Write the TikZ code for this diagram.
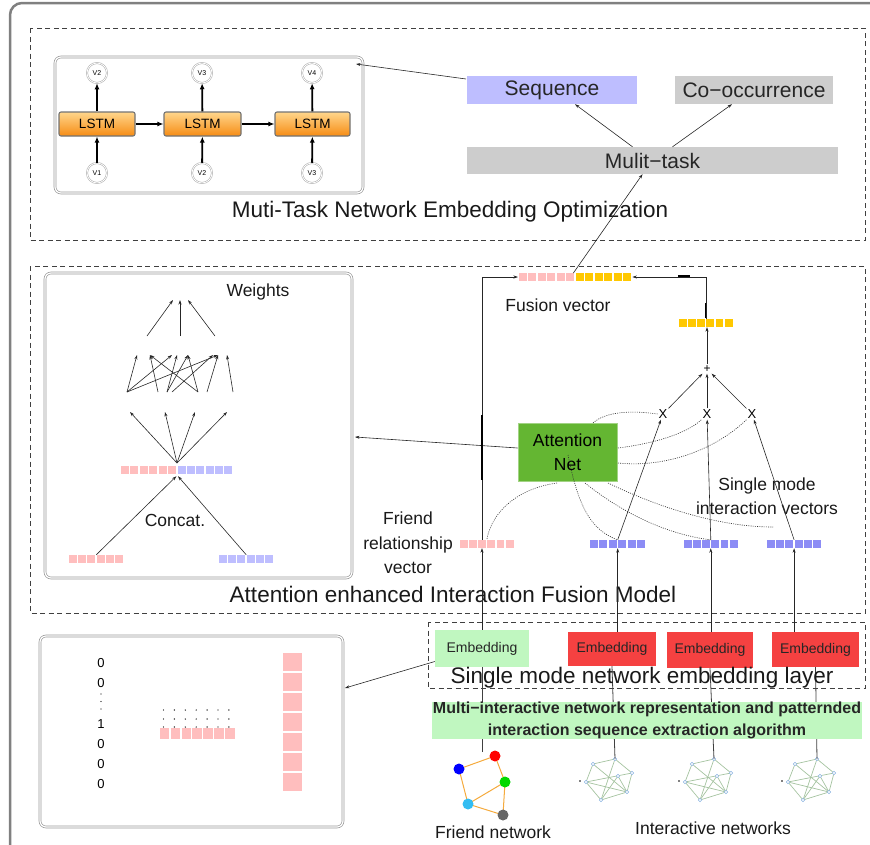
\documentclass[tikz,border=0pt]{standalone}
\usepackage{fontspec}
\setmainfont{Liberation Sans}
\usetikzlibrary{arrows.meta,calc}
\definecolor{pinkc}{RGB}{255,190,190}
\definecolor{bluec}{RGB}{190,190,255}
\definecolor{blued}{RGB}{140,140,245}
\definecolor{yellowc}{RGB}{255,200,0}
\definecolor{attg}{RGB}{100,182,50}
\definecolor{redc}{RGB}{245,65,65}
\definecolor{lgreen}{RGB}{192,247,192}
\definecolor{greyc}{RGB}{205,205,205}
\definecolor{seqc}{RGB}{190,190,255}
\definecolor{netg}{RGB}{165,195,160}
\definecolor{netn}{RGB}{140,180,225}
\definecolor{lstmt}{RGB}{255,214,140}
\definecolor{lstmb}{RGB}{246,140,20}
\definecolor{orangel}{RGB}{245,170,60}
\newcommand\cellrow[7]{%
  \foreach \i in {1,...,#4}{\fill[#5] ({#2+(\i-1)*#6+0.7},{#3-#7}) rectangle ({#2+\i*#6-0.7},{#3+#7});}%
  \node[inner sep=0pt,minimum width={#4*#6},minimum height={2*#7},anchor=west] (#1) at (#2,#3) {};}
\newcommand\inet[3]{%
  \begin{scope}[shift={(#2,#3)}]
    \foreach \p/\q/\r in {#1a/0/0,#1b/-22/5,#1c/17/14,#1d/3/17,#1e/-29/23,#1f/12/33,#1g/-14/41}
      \coordinate (\p) at (\q,\r);
    \foreach \u/\v in {a/b,a/c,b/e,e/g,g/f,a/g,b/f,e/c,e/f,d/f,d/g,c/f}
      \draw[netg,line width=0.7pt] (#1\u) -- (#1\v);
    \foreach \p in {a,b,c,d,e,f,g}
      \node[netnode] (#1n\p) at (#1\p) {};
    \fill[black] (-35,22) circle (0.8);
  \end{scope}}
\tikzset{
  dbox/.style={draw=black!75,dash pattern=on 5pt off 3.5pt,line width=0.8pt},
  ibox/.style={draw=black!40,double=white,double distance=1.2pt,line width=0.7pt,rounded corners=6pt},
  arr/.style={-{Stealth[length=4.5pt,width=3pt]},line width=0.6pt,draw=black!85},
  darr/.style={-{Latex[length=6pt,width=5pt]},line width=1.8pt},
  dots/.style={dash pattern=on 1pt off 1.2pt,line width=0.6pt,draw=black!80},
  lstm/.style={draw=black!55,line width=1.1pt,rounded corners=2pt,top color=lstmt,bottom color=lstmb,
    font=\fontsize{13.5}{16}\selectfont,inner sep=0pt},
  vcirc/.style={circle,draw=black!35,double=white,double distance=0.8pt,line width=0.5pt,minimum size=20pt,
    inner sep=0pt,font=\fontsize{7}{8}\selectfont},
  netnode/.style={circle,draw=netn,fill=white,inner sep=0pt,minimum size=3.5pt,line width=0.5pt},
  fnode/.style={circle,inner sep=0pt,minimum size=11pt},
  link/.style={draw=black!75,line width=0.8pt},
  title/.style={font=\fontsize{22.5}{27}\selectfont,text=black!90},
  lab/.style={font=\fontsize{17.5}{24.5}\selectfont,text=black!90,align=center},
  emb/.style={inner sep=0pt,font=\fontsize{14}{16}\selectfont,text=black!85},
  boxlab/.style={inner sep=0pt,font=\fontsize{21}{24}\selectfont,text=black!85}
}
\begin{document}
\begin{tikzpicture}[x=1pt,y=-1pt]
\useasboundingbox (0,0) rectangle (870,844);
\draw[black!50,line width=2.5pt,rounded corners=12pt] (10,850) -- (10,3) -- (880,3);

%% ---------- top section ----------
\draw[dbox] (30,28) rectangle (865,240);
\node[ibox,minimum width=308pt,minimum height=136pt] (lstmbox) at (209,125) {};
\node[lstm,minimum width=76pt,minimum height=24pt] (l1) at (97,124) {LSTM};
\node[lstm,minimum width=77pt,minimum height=24pt] (l2) at (202.5,124) {LSTM};
\node[lstm,minimum width=75pt,minimum height=24pt] (l3) at (312.5,124) {LSTM};
\node[vcirc] (t1) at (97,73) {V2};
\node[vcirc] (t2) at (202,73) {V3};
\node[vcirc] (t3) at (312,73) {V4};
\node[vcirc] (b1c) at (97,173) {V1};
\node[vcirc] (b2c) at (202,173) {V2};
\node[vcirc] (b3c) at (312,173) {V3};
\foreach \k in {1,2,3}{
  \draw[darr] (b\k c) -- (l\k);
  \draw[darr] (l\k) -- (t\k);}
\draw[darr] (l1) -- (l2);
\draw[darr] (l2) -- (l3);

\node[fill=seqc,minimum width=170pt,minimum height=28pt,boxlab] (seq) at (552,90) {Sequence};
\node[fill=greyc,minimum width=158pt,minimum height=28pt,boxlab] (co) at (754,90) {Co−occurrence};
\node[fill=greyc,minimum width=371pt,minimum height=27pt,boxlab] (mt) at (652.5,160.5) {Mulit−task};
\draw[arr] ($(mt.north)+(-20,0)$) -- ($(seq.south)+(23,0)$);
\draw[arr] ($(mt.north)+(20,0)$) -- ($(co.south)+(-22,0)$);
\coordinate (seqa) at (466,79);
\coordinate (lstmin) at (356,64);
\draw[arr] (seqa) -- (lstmin);
\node[title] (tt1) at (450,212) {Muti-Task Network Embedding Optimization};

%% ---------- middle section ----------
\draw[dbox] (30,266) rectangle (865,613);
\node[ibox,minimum width=307pt,minimum height=305pt] (attbox) at (198.5,425.5) {};
\node[lab] (wts) at (258,292) {Weights};
% top fan
\foreach \a/\b in {147/173,180/180,215/188}
  \draw[arr] (\a,336) -- (\b,300);
% middle crossing layer
\foreach \a/\b in {127/137,127/172,127/218,158/150,167/177,167/188,172/213,198/188,198/150,207/218,233/227}
  \draw[arr] (\a,392) -- (\b,355);
% lower fan
\foreach \b in {130,165,195,227}
  \draw[arr] (177,463) -- (\b,412);
\cellrow{cpk}{120}{470}{6}{pinkc}{9.5}{4}
\cellrow{cbl}{177}{470}{6}{bluec}{9.35}{4}
\cellrow{lpk}{68}{559}{6}{pinkc}{9.35}{4}
\cellrow{lbl}{218}{559}{6}{bluec}{9.35}{4}
\draw[arr] (lpk.north) -- ($(cpk.south east)+(-1,2)$);
\draw[arr] (lbl.north) -- ($(cbl.south west)+(1,2)$);
\node[lab] (cct) at (175,520) {Concat.};

% fusion part
\cellrow{fpink}{518}{277}{6}{pinkc}{9.5}{4}
\cellrow{fyel}{575}{277}{6}{yellowc}{9.5}{4}
\node[lab] (fvl) at (558,305) {Fusion vector};
\cellrow{ysm}{678}{323}{6}{yellowc}{9.2}{4}
\node[inner sep=1pt,font=\fontsize{12}{14}\selectfont] (plus) at (707,369) {+};
\node[inner sep=1pt,font=\fontsize{13}{15}\selectfont] (x1) at (663,414) {X};
\node[inner sep=1pt,font=\fontsize{13}{15}\selectfont] (x2) at (707,414) {X};
\node[inner sep=1pt,font=\fontsize{13}{15}\selectfont] (x3) at (752,414) {X};
\draw[arr] (x1) -- (plus);
\draw[arr] (x2) -- (plus);
\draw[arr] (x3) -- (plus);
\draw[arr] (plus) -- (ysm.south -| plus);
\draw[arr] (ysm.north) |- (fyel.east);
\draw[line width=1.5pt] (705.6,303) -- (705.6,318);
\draw[line width=1.4pt] (678,276) -- (690,276);

\cellrow{frv}{459}{544}{6}{pinkc}{9.2}{4}
\cellrow{b1}{589}{544}{6}{blued}{9.5}{4}
\cellrow{b2}{683}{544}{6}{blued}{9.2}{4}
\cellrow{b3}{766}{544}{6}{blued}{9.3}{4}
\node[lab] (frl) at (408,543) {Friend\\relationship\\vector};
\node[lab] (sml) at (767,496) {Single mode\\interaction vectors};

\node[fill=attg,draw=attg!60!white,line width=0.8pt,minimum width=99pt,minimum height=58pt,inner sep=0pt,
  font=\fontsize{17.5}{24}\selectfont,align=center] (att) at (567.5,452) {Attention\\Net};
\coordinate (ain) at (355,437);
\draw[arr] ($(att.west)+(0,-4)$) -- (ain);

\draw[arr] (b1.north) -- (x1);
\draw[arr] (b2.north) -- (x2);
\draw[arr] (b3.north) -- (x3);

% dotted attention curves
\draw[dots] (593,423) .. controls (605,412) and (630,410) .. (x1.west);
\draw[dots] (618,448) .. controls (650,444) and (685,435) .. (x2.south west);
\draw[dots] (618,463) .. controls (665,468) and (715,450) .. (x3.south west);
\draw[dots] (557,483) .. controls (520,488) and (492,510) .. (frv.north);
\draw[dots] (568,455) .. controls (578,505) and (590,530) .. (b1.north);
\draw[dots] (585,483) .. controls (625,515) and (670,535) .. (b2.north);
\draw[dots] (608,483) .. controls (660,508) and (720,527) .. (773,527);

\node[title] (tt2) at (453,594) {Attention enhanced Interaction Fusion Model};

%% ---------- bottom section ----------
% networks
\coordinate (fr0) at (482,752);
\draw[orangel,line width=1pt] (459,769) -- (495,756) -- (505,782) -- (468,804) -- (459,769);
\draw[orangel,line width=1pt] (505,782) -- (503,815) -- (468,804);
\node[fnode,fill=blue] (fb) at (459,769) {};
\node[fnode,fill=red] (fr) at (495,756) {};
\node[fnode,fill=green!85!black] (fg) at (505,782) {};
\node[fnode,fill=cyan!80] (fc) at (468,804) {};
\node[fnode,fill=black!60] (fk) at (503,815) {};
\inet{na}{615}{759}
\inet{nb}{714}{759}
\inet{nc}{817}{759}
\node[lab] (fnl) at (493,832) {Friend network};
\node[lab] (inl) at (713,828) {Interactive networks};

\node[fill=lgreen,minimum width=94pt,minimum height=37pt,emb] (fe) at (482,648.5) {Embedding};
\node[fill=redc,minimum width=88pt,minimum height=34pt,emb] (e1) at (612,649) {Embedding};
\node[fill=redc,minimum width=86pt,minimum height=36pt,emb] (e2) at (710,650) {Embedding};
\node[fill=redc,minimum width=87pt,minimum height=35pt,emb] (e3) at (815.5,649.5) {Embedding};

\draw[link] (fr0) -- (fe.south);
\draw[link] (naa) -- (e1.south);
\draw[link] (nba) -- (e2.south);
\draw[link] (nca) -- (e3.south);

\node[fill=lgreen,minimum width=430pt,minimum height=37pt,inner sep=0pt,
  font=\fontsize{16}{22}\selectfont\bfseries,align=center,text=black!85] (mlt) at (647,720.5)
  {Multi−interactive network representation and patternded\\interaction sequence extraction algorithm};

\draw[dbox] (428,622) rectangle (865,688);
\node[title] (tt3) at (642,678) {Single mode network embedding layer};

\draw[arr] (fe.north) -- (fe.north |- frv.south);
\draw[arr] (fe.north |- frv.north) |- (fpink.west);
\draw[line width=1.5pt] (482,415) -- (482,480);
\draw[arr] (b1.south |- e1.north) -- (b1.south);
\draw[arr] (b2.south |- e2.north) -- (b2.south);
\draw[arr] (b3.south |- e3.north) -- (b3.south);
\draw[arr] ($(fpink.east)+(-2,-4)$) -- ($(mt.south)+(-10,0)$);

% bottom-left box
\node[ibox,minimum width=303pt,minimum height=191pt] (blb) at (191.5,731.5) {};
\foreach \yy/\tt in {663/0,683/0,724/1,744/0,764/0,784/0}
  \node[font=\fontsize{13}{15}\selectfont,inner sep=0pt] at (101,\yy) {\tt};
\foreach \yy in {694,701.5,709}
  \fill (101,\yy) circle (0.7);
\cellrow{prow}{159}{733.5}{7}{pinkc}{10.9}{5.5}
\foreach \k in {0,...,6}{
  \foreach \yy in {710,719,727}
    \fill ({163.5+\k*10.9},\yy) circle (0.7);}
\foreach \k in {0,...,6}
  \fill[pinkc] (283,{652+\k*20+0.7}) rectangle (302,{652+(\k+1)*20-0.7});
\node[inner sep=0pt,minimum width=19pt,minimum height=140pt] (pcol) at (292.5,722) {};
\coordinate (blin) at (345,688);
\draw[arr] ($(fe.west)+(0,13)$) -- (blin);
\end{tikzpicture}
\end{document}
